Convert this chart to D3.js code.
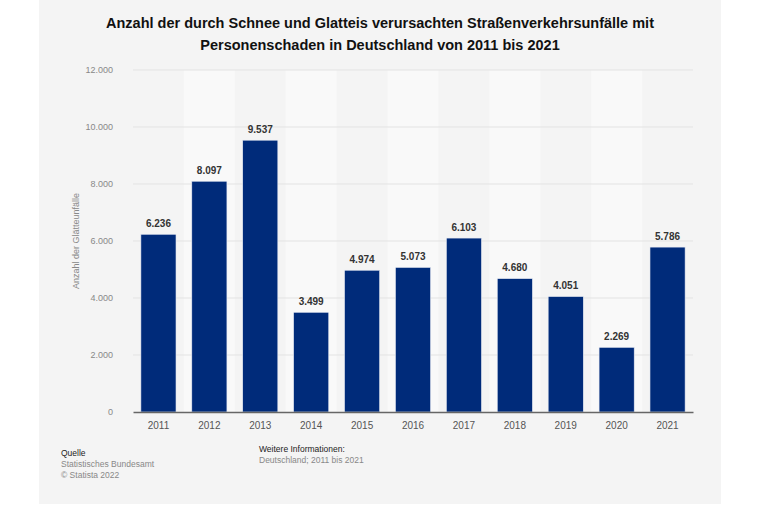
<!DOCTYPE html>
<html>
<head>
<meta charset="utf-8">
<script src="https://cdn.jsdelivr.net/npm/d3@7"></script>
<style>
  body { margin: 0; background: #fff; }
  text { font-family: "Liberation Sans", Arial, sans-serif; }
</style>
</head>
<body>
<div id="chart"></div>
<script>
var years = ['2011', '2012', '2013', '2014', '2015', '2016', '2017', '2018', '2019', '2020', '2021'];
var accidents = [6236, 8097, 9537, 3499, 4974, 5073, 6103, 4680, 4051, 2269, 5786];
var yTicks = [0, 2000, 4000, 6000, 8000, 10000, 12000];
var titleLines = ['Anzahl der durch Schnee und Glatteis verursachten Straßenverkehrsunfälle mit',
  'Personenschaden in Deutschland von 2011 bis 2021'];

var W = 760, H = 506;
var margin = { top: 70, right: 67, bottom: 94, left: 133 };
var width = W - margin.left - margin.right;
var height = 412 - margin.top;
var fmt = d3.formatLocale({ decimal: ',', thousands: '.', grouping: [3], currency: ['', '€'] }).format(',');

var root = d3.select('#chart')
  .append('svg')
    .attr('width', W)
    .attr('height', H);

// grey panel
root.append('rect')
  .attr('x', 39).attr('y', 0)
  .attr('width', 682).attr('height', 504)
  .attr('fill', '#f4f4f4');

root.selectAll('.title')
  .data(titleLines)
  .enter()
    .append('text')
    .attr('class', 'title')
    .attr('x', 380)
    .attr('y', (d, i) => 28 + i * 21.5)
    .attr('text-anchor', 'middle')
    .style('font-size', '14.5px')
    .style('font-weight', 'bold')
    .attr('fill', '#111')
    .text(d => d);

var svg = root.append('g')
  .attr('transform', `translate(${margin.left}, ${margin.top})`);

var xScale = d3.scaleBand()
  .domain(years)
  .range([0, width])
  .paddingInner(0.31)
  .paddingOuter(0.155);

var yScale = d3.scaleLinear()
  .domain([0, 12000])
  .range([height, 0]);

var step = xScale.step();

// alternating column background
svg.selectAll('.stripe')
  .data(years.filter((d, i) => i % 2 === 1))
  .enter()
    .append('rect')
    .attr('class', 'stripe')
    .attr('x', d => xScale(d) - step * xScale.paddingInner() / 2)
    .attr('y', 0)
    .attr('width', step)
    .attr('height', height)
    .attr('fill', '#f9f9f9');

// gridlines
svg.selectAll('.grid')
  .data(yTicks.filter(d => d > 0))
  .enter()
    .append('line')
    .attr('class', 'grid')
    .attr('x1', 0).attr('x2', width)
    .attr('y1', d => yScale(d)).attr('y2', d => yScale(d))
    .attr('stroke', '#e3e3e3')
    .attr('stroke-width', 1);

// y axis (labels only)
var yAxis = svg.append('g')
  .attr('transform', 'translate(-17, 0)')
  .call(d3.axisLeft(yScale).tickValues(yTicks).tickFormat(fmt).tickSize(0));
yAxis.select('.domain').remove();
yAxis.selectAll('text')
  .attr('fill', '#888')
  .style('font-size', '9px');

root.append('text')
  .attr('transform', 'translate(79, 241) rotate(-90)')
  .attr('text-anchor', 'middle')
  .attr('fill', '#888')
  .style('font-size', '9px')
  .text('Anzahl der Glätteunfälle');

// bars
svg.selectAll('.bar')
  .data(accidents)
  .enter()
    .append('rect')
    .attr('class', 'bar')
    .attr('x', (d, i) => xScale(years[i]))
    .attr('y', d => yScale(d))
    .attr('width', xScale.bandwidth())
    .attr('height', d => height - yScale(d))
    .attr('fill', '#002b7a')
    .attr('stroke', '#e8ecf4')
    .attr('stroke-width', 0.6);

svg.selectAll('.value')
  .data(accidents)
  .enter()
    .append('text')
    .attr('class', 'value')
    .attr('x', (d, i) => xScale(years[i]) + xScale.bandwidth() / 2)
    .attr('y', d => yScale(d) - 7.5)
    .attr('text-anchor', 'middle')
    .attr('fill', '#333')
    .style('font-size', '10px')
    .style('font-weight', 'bold')
    .text(d => fmt(d));

// x axis
var xAxis = svg.append('g')
  .attr('transform', `translate(0, ${height})`)
  .call(d3.axisBottom(xScale).tickSize(0).tickPadding(10));
xAxis.select('.domain')
  .attr('stroke', '#666')
  .attr('stroke-width', 1.5);
xAxis.selectAll('text')
  .attr('fill', '#555')
  .style('font-size', '10px');

// footer
var footer = [
  { x: 61, y: 456, text: 'Quelle', color: '#222' },
  { x: 61, y: 467, text: 'Statistisches Bundesamt', color: '#888' },
  { x: 61, y: 478, text: '© Statista 2022', color: '#888' },
  { x: 259, y: 452, text: 'Weitere Informationen:', color: '#222' },
  { x: 259, y: 463, text: 'Deutschland; 2011 bis 2021', color: '#888' }
];
root.selectAll('.foot')
  .data(footer)
  .enter()
    .append('text')
    .attr('class', 'foot')
    .attr('x', d => d.x)
    .attr('y', d => d.y)
    .attr('fill', d => d.color)
    .style('font-size', '8.5px')
    .text(d => d.text);
</script>
</body>
</html>
